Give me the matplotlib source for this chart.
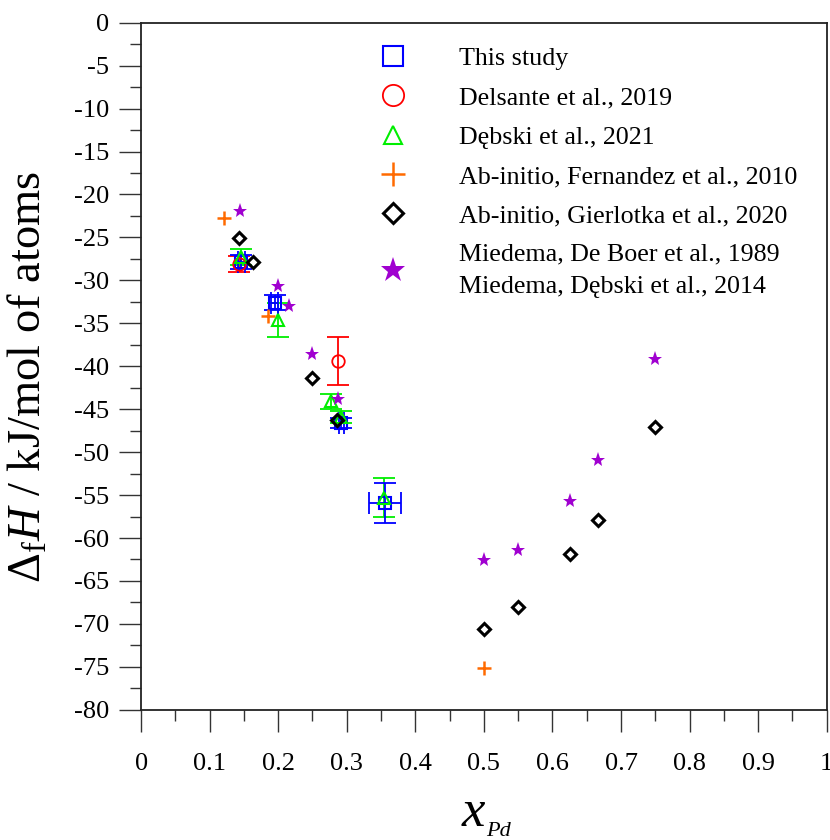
import matplotlib
matplotlib.use('Agg')
import matplotlib.pyplot as plt
from matplotlib.ticker import MultipleLocator

plt.rcParams['font.family'] = ['Liberation Serif', 'DejaVu Serif']
plt.rcParams['mathtext.fontset'] = 'custom'
plt.rcParams['mathtext.rm'] = 'Liberation Serif'
plt.rcParams['mathtext.it'] = 'Liberation Serif:italic'
plt.rcParams['axes.unicode_minus'] = False

# This study (with x and y uncertainties)
study_x = [0.146, 0.195, 0.292, 0.356]
study_y = [-27.9, -32.6, -46.6, -55.9]
study_xerr = [0.005, 0.005, 0.004, 0.023]
study_yerr = [0.8, 0.9, 0.6, 2.3]

# Delsante et al., 2019
dels_x = [0.143, 0.287]
dels_y = [-28.1, -39.4]
dels_yerr = [0.9, 2.8]

# Debski et al., 2021
debski_x = [0.145, 0.200, 0.277, 0.292, 0.355]
debski_y = [-27.3, -34.6, -44.1, -45.9, -55.3]
debski_yerr = [0.9, 2.0, 0.9, 0.7, 2.3]

# Ab-initio, Fernandez et al., 2010
fern_x = [0.121, 0.185, 0.5]
fern_y = [-22.7, -34.2, -75.1]

# Ab-initio, Gierlotka et al., 2020
gier_x = [0.143, 0.163, 0.25, 0.286, 0.5, 0.55, 0.625, 0.667, 0.75]
gier_y = [-25.1, -27.9, -41.4, -46.3, -70.6, -68.0, -61.9, -57.9, -47.1]

# Miedema (De Boer 1989 and Debski 2014)
mied_x = [0.144, 0.200, 0.216, 0.25, 0.287, 0.5, 0.55, 0.625, 0.667, 0.75]
mied_y = [-21.9, -30.7, -33.0, -38.6, -43.8, -62.6, -61.4, -55.7, -50.9, -39.1]

x_ticks = [0, 0.1, 0.2, 0.3, 0.4, 0.5, 0.6, 0.7, 0.8, 0.9, 1]
x_ticklabels = ['0', '0.1', '0.2', '0.3', '0.4', '0.5', '0.6', '0.7', '0.8', '0.9', '1']

blue = '#0000ff'
red = '#ff0000'
green = '#00ee00'
orange = '#ff6a00'
purple = '#a000d0'

fig = plt.figure(figsize=(8.3, 8.4), dpi=100)
ax = fig.add_axes([0.170, 0.155, 0.826, 0.818])

# error bars first so markers sit on top
eb = dict(fmt='none', capsize=8, elinewidth=1.3, capthick=1.3)
ax.errorbar(dels_x, dels_y, yerr=dels_yerr, ecolor=red, **eb)
ax.errorbar(debski_x, debski_y, yerr=debski_yerr, ecolor=green, **eb)
ax.errorbar(study_x, study_y, xerr=study_xerr, yerr=study_yerr, ecolor=blue, **eb)

ax.plot(study_x, study_y, 's', color=blue, mfc='none', ms=8.5, mew=1.5,
        label='This study')
ax.plot(dels_x, dels_y, 'o', color=red, mfc='none', ms=9, mew=1.3,
        label='Delsante et al., 2019')
ax.plot(debski_x, debski_y, '^', color=green, mfc='none', ms=8, mew=1.5,
        label='Dębski et al., 2021')
ax.plot(fern_x, fern_y, '+', color=orange, ms=10, mew=1.8,
        label='Ab-initio, Fernandez et al., 2010')
ax.plot(gier_x, gier_y, 'D', color='black', mfc='none', ms=6, mew=2.2,
        label='Ab-initio, Gierlotka et al., 2020')
ax.plot(mied_x, mied_y, '*', color=purple, ms=11, mew=0,
        label='Miedema, De Boer et al., 1989\nMiedema, Dębski et al., 2014')

ax.set_xlim(0, 1)
ax.set_ylim(-80, 0)
ax.set_xticks(x_ticks)
ax.set_xticklabels(x_ticklabels)
ax.xaxis.set_minor_locator(MultipleLocator(0.05))
ax.yaxis.set_major_locator(MultipleLocator(5))
ax.yaxis.set_minor_locator(MultipleLocator(2.5))
ax.tick_params(which='both', direction='out', top=False, right=False,
               width=1.0, color='#333333', labelsize=19)
ax.tick_params(which='major', length=16)
ax.tick_params(which='minor', length=8)
ax.tick_params(axis='x', which='major', pad=15)
ax.tick_params(axis='y', which='major', pad=7)
for s in ax.spines.values():
    s.set_linewidth(1.3)
    s.set_color('#222222')

fig.text(0.035, 0.551, r'$\Delta_{\rm f}H$ / kJ/mol of atoms', fontsize=33.5,
         rotation=90, ha='center', va='center')

fig.text(0.584, 0.017, 'x', fontsize=38, style='italic', ha='right', va='baseline')
fig.text(0.586, 0.005, 'Pd', fontsize=16, style='italic', ha='left', va='baseline')

leg = ax.legend(loc='upper left', bbox_to_anchor=(0.458, 0.944),
                bbox_transform=fig.transFigure, frameon=False, fontsize=18.7,
                markerscale=1.7, handlelength=1.0, handletextpad=2.05,
                labelspacing=0.62, borderpad=0, borderaxespad=0)
for t in leg.get_texts():
    t.set_linespacing(1.6)

fig.savefig('out.png', dpi=100)
